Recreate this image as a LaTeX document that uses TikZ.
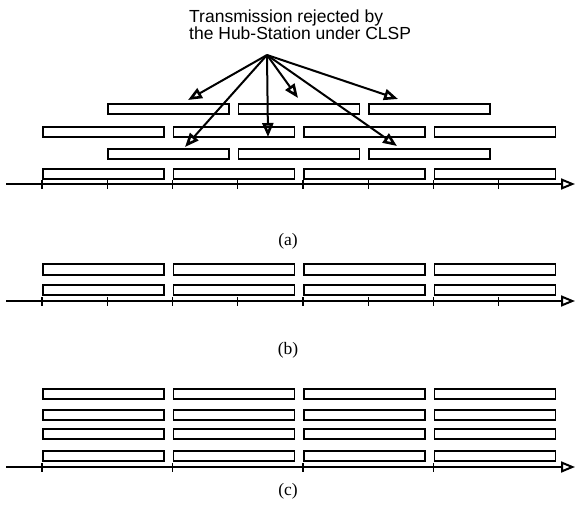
\documentclass[tikz,border=0pt]{standalone}
\usepackage{fontspec}
\setmainfont{Liberation Serif}
\newfontfamily\sansf{Liberation Sans}
\usetikzlibrary{arrows.meta}
\begin{document}
\begin{tikzpicture}[x=1pt,y=-1pt,
  slot/.style={draw, line width=1.7pt, minimum width=121pt, minimum height=10pt, inner sep=0pt, anchor=north west},
  axisline/.style={line width=1.6pt, -{Triangle[open, length=14pt, width=11pt, line width=2pt]}},
  tickmark/.style={line width=1.4pt},
  rej/.style={line width=2pt, -{Triangle[open, length=14pt, width=11pt, line width=2.6pt]}},
  caplabel/.style={font=\fontsize{17.5}{19}\selectfont}]
\useasboundingbox (0,0) rectangle (576,514);
% heading
\node[font=\sansf\fontsize{17.5}{17}\selectfont, align=left, anchor=north west, inner sep=0pt] (lbl) at (189,10) {Transmission rejected by\\the Hub-Station under CLSP};
\coordinate (src) at (267,55);
% (a) boxes
\foreach \i/\x in {1/107,2/237.5,3/368}{
  \node[slot] (a1-\i) at (\x,103) {};
  \node[slot] (a3-\i) at (\x,148) {};
}
\foreach \i/\x in {1/42,2/172.5,3/303,4/433.5}{
  \node[slot] (a2-\i) at (\x,126) {};
  \node[slot] (a4-\i) at (\x,168) {};
}
% (a) axis
\coordinate (aL) at (6,184);
\coordinate (aR) at (575,184);
\draw[axisline] (aL) -- (aR);
\foreach \x in {42,107.2,172.5,237.7,303,368.2,433.5,498.7}{
  \draw[tickmark] (\x,180) -- (\x,189);
}
% rejected arrows
\coordinate (t1) at (188,100);
\coordinate (t2) at (298,98);
\coordinate (t3) at (398,99);
\coordinate (t4) at (185,147);
\coordinate (t5) at (268,137);
\coordinate (t6) at (397,146);
\foreach \t in {t1,t2,t3,t4,t5,t6}{
  \draw[rej] (src) -- (\t);
}
\node[caplabel] (capa) at (288,241) {(a)};
% (b)
\foreach \i/\x in {1/42,2/172.5,3/303,4/433.5}{
  \node[slot, minimum height=11pt] (b1-\i) at (\x,263) {};
  \node[slot] (b2-\i) at (\x,284) {};
}
\coordinate (bL) at (6,301);
\coordinate (bR) at (575,301);
\draw[axisline] (bL) -- (bR);
\foreach \x in {42,107.2,172.5,237.7,303,368.2,433.5,498.7}{
  \draw[tickmark] (\x,297) -- (\x,306);
}
\node[caplabel] (capb) at (288,350) {(b)};
% (c)
\foreach \i/\x in {1/42,2/172.5,3/303,4/433.5}{
  \node[slot] (c1-\i) at (\x,388) {};
  \node[slot] (c2-\i) at (\x,409) {};
  \node[slot] (c3-\i) at (\x,428) {};
  \node[slot] (c4-\i) at (\x,450) {};
}
\coordinate (cL) at (6,467);
\coordinate (cR) at (575,467);
\draw[axisline] (cL) -- (cR);
\foreach \x in {42,172.5,303,433.5}{
  \draw[tickmark] (\x,463) -- (\x,472);
}
\node[caplabel] (capc) at (288,491) {(c)};
\end{tikzpicture}
\end{document}
